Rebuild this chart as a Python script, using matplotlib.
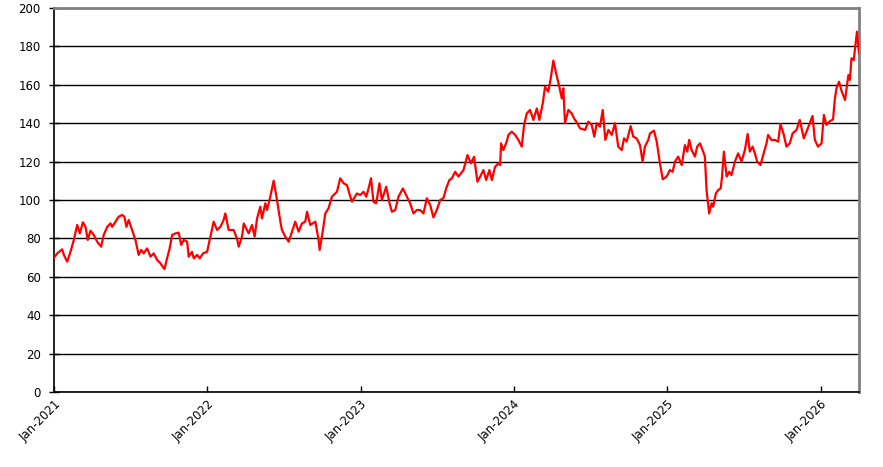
import matplotlib
matplotlib.use("Agg")
import matplotlib.pyplot as plt
import matplotlib.dates as mdates
import numpy as np
import pandas as pd

# years elapsed since 1 Jan 2021, and index value
t_years = [
    0.000, 0.021, 0.053, 0.064, 0.086, 0.107, 0.129, 0.151, 0.168, 0.188,
    0.205, 0.220, 0.238, 0.259, 0.281, 0.307, 0.324, 0.347, 0.368, 0.379,
    0.401, 0.422, 0.444, 0.459, 0.472, 0.487, 0.509, 0.531, 0.552, 0.568,
    0.585, 0.607, 0.629, 0.650, 0.672, 0.694, 0.720, 0.737, 0.754, 0.770,
    0.792, 0.813, 0.829, 0.846, 0.868, 0.878, 0.900, 0.911, 0.933, 0.950,
    0.972, 0.998, 1.020, 1.041, 1.063, 1.085, 1.106, 1.117, 1.139, 1.171,
    1.193, 1.204, 1.226, 1.237, 1.269, 1.291, 1.308, 1.324, 1.345, 1.356,
    1.378, 1.389, 1.410, 1.432, 1.454, 1.476, 1.486, 1.508, 1.530, 1.552,
    1.573, 1.595, 1.617, 1.638, 1.650, 1.671, 1.704, 1.725, 1.732, 1.747,
    1.769, 1.790, 1.812, 1.845, 1.866, 1.888, 1.910, 1.932, 1.943, 1.975,
    1.997, 2.018, 2.036, 2.051, 2.067, 2.083, 2.101, 2.122, 2.138, 2.166,
    2.188, 2.203, 2.225, 2.246, 2.275, 2.296, 2.322, 2.344, 2.366, 2.388,
    2.409, 2.431, 2.453, 2.474, 2.496, 2.518, 2.539, 2.557, 2.578, 2.594,
    2.616, 2.637, 2.670, 2.696, 2.718, 2.739, 2.761, 2.779, 2.800, 2.818,
    2.839, 2.855, 2.876, 2.898, 2.909, 2.915, 2.930, 2.952, 2.963, 2.985,
    3.007, 3.028, 3.050, 3.065, 3.083, 3.104, 3.126, 3.148, 3.165, 3.187,
    3.202, 3.223, 3.239, 3.256, 3.274, 3.295, 3.311, 3.321, 3.332, 3.354,
    3.376, 3.391, 3.412, 3.430, 3.463, 3.484, 3.506, 3.523, 3.539, 3.560,
    3.578, 3.595, 3.615, 3.637, 3.658, 3.679, 3.702, 3.717, 3.734, 3.760,
    3.777, 3.799, 3.821, 3.838, 3.853, 3.875, 3.886, 3.912, 3.930, 3.951,
    3.969, 3.995, 4.016, 4.034, 4.049, 4.070, 4.093, 4.114, 4.129, 4.142,
    4.158, 4.179, 4.194, 4.212, 4.233, 4.244, 4.255, 4.266, 4.272, 4.288,
    4.298, 4.316, 4.331, 4.347, 4.355, 4.368, 4.386, 4.403, 4.418, 4.440,
    4.461, 4.483, 4.505, 4.523, 4.537, 4.555, 4.570, 4.585, 4.607, 4.624,
    4.646, 4.656, 4.678, 4.700, 4.722, 4.737, 4.759, 4.776, 4.798, 4.816,
    4.842, 4.863, 4.889, 4.907, 4.928, 4.946, 4.961, 4.982, 5.005, 5.020,
    5.037, 5.055, 5.080, 5.091, 5.102, 5.119, 5.137, 5.158, 5.180, 5.190,
    5.200, 5.215, 5.222, 5.236, 5.249,
]
values = [
    70.0, 72.2, 74.3, 71.4, 67.9, 73.0, 79.2, 87.0, 82.6, 88.4,
    86.1, 79.2, 84.0, 81.8, 78.3, 75.7, 81.8, 86.0, 87.8, 86.0,
    88.7, 91.3, 92.2, 91.3, 86.0, 89.6, 84.4, 79.2, 71.4, 74.0,
    72.2, 74.8, 70.5, 72.2, 68.8, 67.0, 64.0, 69.6, 74.8, 81.8,
    82.6, 83.0, 76.6, 79.2, 78.3, 70.5, 73.0, 69.6, 71.4, 69.6,
    72.2, 73.0, 80.9, 88.7, 84.4, 86.0, 89.6, 93.0, 84.4, 84.4,
    80.0, 75.7, 80.9, 87.8, 82.6, 87.0, 80.9, 90.4, 96.5, 90.4,
    98.3, 94.8, 101.7, 110.0, 100.0, 88.7, 84.4, 80.9, 78.3, 83.5,
    88.7, 83.5, 87.8, 88.7, 93.9, 87.0, 88.7, 79.2, 74.0, 80.9,
    93.0, 95.7, 101.7, 104.3, 111.3, 108.7, 107.8, 101.7, 99.1, 103.4,
    102.6, 104.3, 101.7, 106.0, 111.3, 99.1, 98.3, 108.7, 100.0, 106.9,
    98.3, 93.9, 94.8, 101.7, 106.0, 102.6, 98.3, 93.0, 94.8, 94.8,
    93.0, 100.9, 97.4, 90.9, 94.8, 100.0, 100.9, 106.0, 110.4, 111.3,
    114.7, 112.2, 115.6, 123.4, 119.1, 122.5, 109.5, 112.2, 115.6, 110.4,
    115.6, 110.4, 117.3, 119.1, 118.2, 129.5, 126.0, 130.4, 133.9, 135.6,
    133.9, 131.3, 127.8, 139.1, 145.1, 146.9, 141.7, 147.7, 141.7, 150.4,
    159.0, 156.4, 163.4, 172.6, 166.0, 159.0, 152.9, 158.2, 140.0, 146.9,
    145.1, 142.5, 140.0, 137.3, 136.5, 140.8, 139.1, 133.0, 140.0, 138.2,
    146.9, 131.3, 136.5, 133.9, 140.0, 127.8, 126.0, 132.1, 130.4, 138.5,
    133.0, 132.1, 128.6, 120.0, 127.8, 131.3, 134.7, 136.1, 130.4, 119.1,
    110.8, 112.2, 115.6, 114.7, 120.0, 122.6, 118.2, 128.6, 125.2, 131.3,
    126.0, 122.6, 127.8, 129.5, 125.2, 122.6, 105.2, 97.4, 93.0, 98.3,
    96.5, 103.5, 105.2, 106.0, 111.3, 125.2, 112.2, 114.7, 113.0, 120.0,
    124.3, 120.0, 126.0, 134.4, 125.2, 127.8, 124.3, 120.0, 118.2, 123.4,
    129.5, 133.9, 131.3, 131.3, 130.4, 139.6, 133.9, 127.8, 129.5, 134.7,
    136.5, 141.7, 132.1, 135.6, 140.0, 143.8, 131.3, 127.8, 129.5, 144.3,
    139.1, 140.8, 142.0, 152.1, 158.2, 161.6, 156.4, 152.1, 165.1, 162.5,
    173.8, 172.9, 178.1, 187.7, 176.4,
]

start = pd.Timestamp("2021-01-01")
dates = start + pd.to_timedelta(np.array(t_years) * 365.25, unit="D")

fig = plt.figure(figsize=(8.83, 4.67), dpi=100)
ax = fig.add_axes([0.0612, 0.1606, 0.9116, 0.8223])

ax.plot(dates, values, color="#ff0000", linewidth=1.6, zorder=3)

ax.set_ylim(0, 200)
ax.set_yticks(np.arange(0, 201, 20))
ax.set_xlim(dates[0], dates[-1])
ax.xaxis.set_major_locator(mdates.YearLocator())
ax.xaxis.set_major_formatter(mdates.DateFormatter("%b-%Y"))

ax.yaxis.grid(True, color="black", linewidth=1.0)
ax.set_axisbelow(True)

for side in ("top", "right"):
    ax.spines[side].set_color("#808080")
    ax.spines[side].set_linewidth(2)
for side in ("left", "bottom"):
    ax.spines[side].set_color("black")
    ax.spines[side].set_linewidth(1.2)

ax.tick_params(axis="y", direction="inout", length=7, width=1, labelsize=8.5, pad=6)
ax.tick_params(axis="x", direction="in", length=4, width=1, labelsize=8.5, pad=4)
for lbl in ax.get_xticklabels():
    lbl.set_rotation(45)
    lbl.set_ha("right")
    lbl.set_rotation_mode("anchor")

fig.savefig("out.png", dpi=100)
plt.close(fig)
